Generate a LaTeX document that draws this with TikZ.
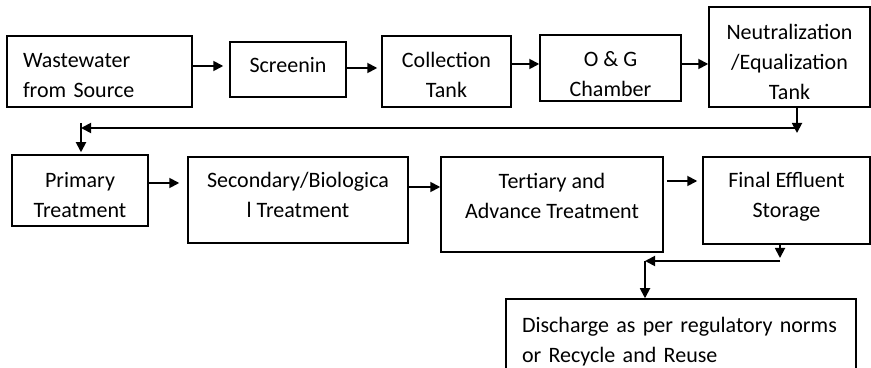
\documentclass[tikz,border=0pt]{standalone}
\usepackage{fontspec}
\setmainfont{Carlito}
\usetikzlibrary{arrows.meta}
\newcommand{\padb}[1]{\rule[-#1]{0pt}{0pt}}
\newcommand{\padt}[1]{\rule{0pt}{#1}}

\begin{document}
\begin{tikzpicture}[x=0.5pt,y=-0.5pt,
		blk/.style={draw, line width=0.75pt, align=center, inner sep=0pt, font=\fontsize{11}{15}\selectfont},
		sz/.style 2 args={minimum width=#1*0.5pt, minimum height=#2*0.5pt},
		arr/.style={-{Triangle[length=5pt,width=5pt]}, line width=0.9pt}]
		\useasboundingbox (0,0) rectangle (871,368);
		\node[blk, sz={185}{71}, text width=76.5pt, align=left] (wsrc) at (99.5,71.5) {\padt{11pt}Wastewater\\from Source};
		\node[blk, sz={116}{55}] (scr) at (288,69.5) {Screenin\padb{5pt}};
		\node[blk, sz={129}{71}] (coll) at (446.5,71.5) {\padt{11pt}Collection\\Tank};
		\node[blk, sz={141}{66}] (og) at (610.5,68) {\padt{13.5pt}O \& G\\Chamber};
		\node[blk, sz={161}{100}] (neut) at (789.5,57) {\padt{13pt}Neutralization\\/Equalization\\Tank};
		\node[blk, sz={136}{71}] (prim) at (80,190.5) {\padt{12.5pt}Primary\\Treatment};
		\node[blk, sz={220}{86}] (sec) at (298,200) {Secondary/Biologica\\l Treatment\padb{5pt}};
		\node[blk, sz={222}{95}] (tert) at (552,204.5) {Tertiary and\\Advance Treatment\padb{9pt}};
		\node[blk, sz={167}{87}] (fin) at (786.5,200.5) {Final Effluent\\Storage\padb{6pt}};
		\node[blk, sz={350}{86}, text width=159pt, align=left] (disc) at (681,342) {Discharge as per regulatory norms\\or Recycle and Reuse};
		\coordinate (nd) at (797,133);
		\coordinate (t1) at (797,128);
		\coordinate (t2) at (81,128);
		\coordinate (t3) at (81,123);
		\coordinate (fd) at (780,258);
		\coordinate (b1) at (780,261);
		\coordinate (b2) at (645,261);
		\draw[arr, shorten >=3pt] (wsrc.east |- 0,66) -- (scr.west |- 0,66);
		\draw[arr, shorten >=2pt] (scr.east |- 0,68) -- (coll.west |- 0,68);
		\draw[arr] (coll.east |- 0,64) -- (og.west |- 0,64);
		\draw[arr] (og.east |- 0,64) -- (neut.west |- 0,64);
		\draw[arr] (neut.south -| nd) -- (nd);
		\draw[arr] (t1) -- (t2);
		\draw[arr, shorten >=1pt] (t3) -- (prim.north -| t3);
		\draw[arr] (prim.east |- 0,183) -- ([xshift=-4pt]sec.west |- 0,183);
		\draw[arr] (sec.east |- 0,187) -- (tert.west |- 0,187);
		\draw[arr] ([xshift=1.5pt]tert.east |- 0,181) -- ([xshift=-2.5pt]fin.west |- 0,181);
		\draw[arr] (fin.south -| fd) -- (fd);
		\draw[arr] (b1) -- (b2);
		\draw[arr] (b2) -- (disc.north -| b2);
	\end{tikzpicture}
\end{document}
